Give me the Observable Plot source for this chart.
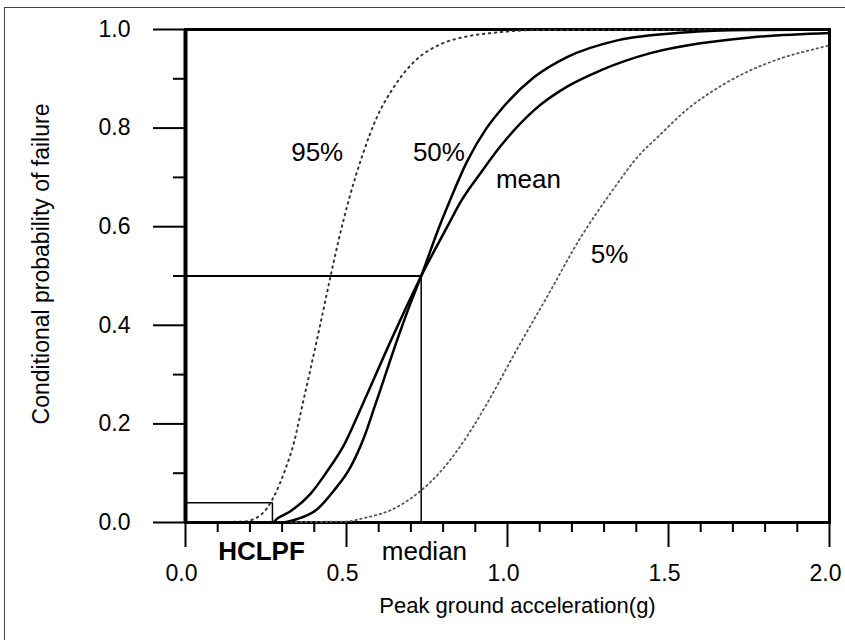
<!DOCTYPE html>
<html>
<head>
<meta charset="utf-8">
<script src="https://cdn.jsdelivr.net/npm/d3@7"></script>
<script src="https://cdn.jsdelivr.net/npm/@observablehq/plot@0.6"></script>
<style>
  html, body { margin: 0; padding: 0; background: white; }
  #wrap { position: relative; width: 845px; height: 640px; overflow: hidden; }
  #border { position: absolute; left: 4px; top: 7px; width: 900px; height: 700px;
            border-top: 1px solid #444; border-left: 1px solid #444; pointer-events: none; }
</style>
</head>
<body>
<div id="wrap"><div id="chart"></div><div id="border"></div></div>
<script>
// ---- data ----
const medX  = [0, 0.30, 0.347, 0.409, 0.461, 0.512, 0.554, 0.590, 0.668, 0.699, 0.732, 0.787, 0.818, 0.875, 0.935, 0.978, 1.082, 1.185, 1.341, 1.548, 1.75, 2.0];
const medY  = [0, 0, 0.007, 0.027, 0.065, 0.112, 0.172, 0.240, 0.390, 0.445, 0.500, 0.598, 0.648, 0.733, 0.800, 0.836, 0.903, 0.944, 0.978, 0.994, 0.999, 1.0];
const meanX = [0, 0.27, 0.285, 0.326, 0.388, 0.440, 0.492, 0.549, 0.642, 0.688, 0.732, 0.813, 0.854, 0.920, 0.978, 1.082, 1.185, 1.289, 1.444, 1.599, 1.755, 2.0];
const meanY = [0, 0, 0.008, 0.023, 0.058, 0.104, 0.157, 0.238, 0.375, 0.440, 0.500, 0.600, 0.650, 0.712, 0.763, 0.836, 0.884, 0.917, 0.952, 0.972, 0.984, 0.993];
const p95X  = [0, 0.18, 0.233, 0.274, 0.310, 0.336, 0.362, 0.419, 0.450, 0.476, 0.507, 0.549, 0.595, 0.637, 0.709, 0.792, 0.875, 0.968, 1.10, 2.0];
const p95Y  = [0, 0.002, 0.015, 0.052, 0.108, 0.160, 0.235, 0.403, 0.498, 0.574, 0.654, 0.744, 0.823, 0.873, 0.934, 0.970, 0.986, 0.994, 0.999, 1.0];
const p05X  = [0, 0.50, 0.554, 0.637, 0.730, 0.797, 0.895, 0.937, 1.030, 1.123, 1.227, 1.320, 1.413, 1.465, 1.558, 1.672, 1.744, 1.838, 1.982, 2.0];
const p05Y  = [0, 0.002, 0.009, 0.025, 0.064, 0.107, 0.196, 0.242, 0.352, 0.458, 0.578, 0.668, 0.748, 0.781, 0.838, 0.889, 0.914, 0.939, 0.965, 0.968];

const medianValue = 0.732;   // median capacity (g), P = 0.5
const hclpfValue  = 0.27;    // HCLPF (g)
const hclpfProb   = 0.04;

const xMajor = [0, 0.5, 1.0, 1.5, 2.0];
const xMinor = [0.1,0.2,0.3,0.4,0.6,0.7,0.8,0.9,1.1,1.2,1.3,1.4,1.6,1.7,1.8,1.9];
const yMajor = [0, 0.2, 0.4, 0.6, 0.8, 1.0];
const yMinor = [0.1, 0.3, 0.5, 0.7, 0.9];

const curveLabels = ["95%", "50%", "mean", "5%"];
const curveLabelX = [0.409, 0.787, 1.065, 1.317];
const curveLabelY = [0.751, 0.751, 0.696, 0.543];
const xTitle = "Peak ground acceleration(g)";
const yTitle = "Conditional probability of failure";

// ---- build tables ----
const zip = (xs, ys) => xs.map((x, i) => ({x, y: ys[i]}));
const med = zip(medX, medY), mean = zip(meanX, meanY), p95 = zip(p95X, p95Y), p05 = zip(p05X, p05Y);
const labels = curveLabels.map((t, i) => ({t, x: curveLabelX[i], y: curveLabelY[i]}));

const font = "'Liberation Sans', Arial, Helvetica, sans-serif";

const chart = Plot.plot({
  width: 845, height: 640,
  marginLeft: 185, marginRight: 16, marginTop: 29, marginBottom: 118,
  x: {domain: [0, 2]},
  y: {domain: [0, 1]},
  style: {fontFamily: font, fontSize: "23px", background: "white", color: "black", overflow: "visible"},
  marks: [
    // axes
    Plot.axisY(yMajor, {tickSize: 32, tickPadding: 23, tickFormat: d => d.toFixed(1), strokeWidth: 2, label: null}),
    Plot.axisY(yMinor, {tickSize: 12, tickFormat: () => "", strokeWidth: 2, label: null}),
    Plot.axisX(xMajor, {tickSize: 25, tickFormat: () => "", strokeWidth: 2, label: null}),
    Plot.axisX(xMajor, {tickSize: 0, tickPadding: 42, dx: -4, tickFormat: d => d.toFixed(1), label: null}),
    Plot.axisX(xMinor, {tickSize: 10, tickFormat: () => "", strokeWidth: 2, label: null}),
    // frame
    Plot.frame({strokeWidth: 3}),
    Plot.ruleX([0], {strokeWidth: 4}),
    // median and HCLPF guides
    Plot.ruleY([0.5], {x1: 0, x2: medianValue, strokeWidth: 2}),
    Plot.ruleX([medianValue], {y1: 0, y2: 0.5, strokeWidth: 1.5}),
    Plot.ruleY([hclpfProb], {x1: 0, x2: hclpfValue, strokeWidth: 1.5}),
    Plot.ruleX([hclpfValue], {y1: 0, y2: hclpfProb, strokeWidth: 1.5}),
    // curves
    Plot.line(p95, {x: "x", y: "y", stroke: "#333", strokeWidth: 2, strokeDasharray: "1.5,4.5", strokeLinecap: "round", curve: "monotone-x"}),
    Plot.line(p05, {x: "x", y: "y", stroke: "#555", strokeWidth: 1.8, strokeDasharray: "1.5,3.5", strokeLinecap: "round", curve: "monotone-x"}),
    Plot.line(mean, {x: "x", y: "y", stroke: "black", strokeWidth: 2.5, curve: "monotone-x"}),
    Plot.line(med, {x: "x", y: "y", stroke: "black", strokeWidth: 2.5, curve: "monotone-x"}),
    // labels
    Plot.text(labels, {x: "x", y: "y", text: "t", fontSize: 26}),
    Plot.text(["HCLPF"], {x: 0.236, y: -0.059, text: d => d, fontSize: 26, fontWeight: "bold"}),
    Plot.text(["median"], {x: 0.742, y: -0.059, text: d => d, fontSize: 26}),
    Plot.text([xTitle], {frameAnchor: "bottom", text: d => d, dy: 90, dx: 10, fontSize: 22}),
    Plot.text([yTitle], {frameAnchor: "left", textAnchor: "middle", text: d => d, rotate: -90, dx: -144, dy: -12, fontSize: 23})
  ]
});
// make sure the axis tick labels get the intended size
d3.select(chart).selectAll('g[aria-label*="axis"] text').style("font-size", "23px");
document.getElementById("chart").appendChild(chart);
</script>
</body>
</html>
